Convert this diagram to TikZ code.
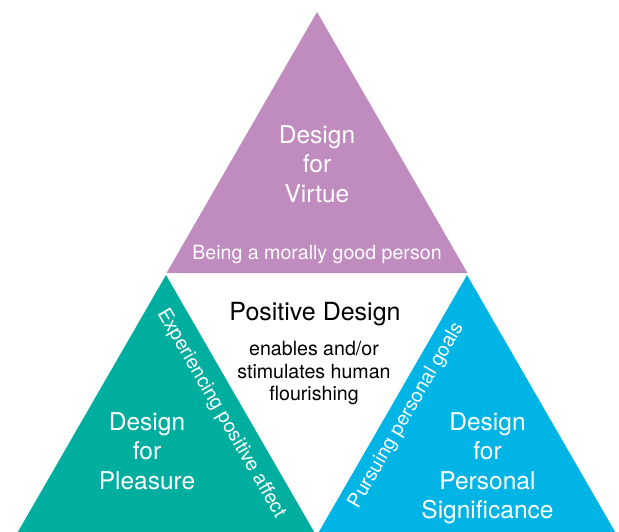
\documentclass[tikz,border=0pt]{standalone}
\usepackage{fontspec}
\setmainfont{TeX Gyre Heros}

\newlength{\du}
\setlength{\du}{1pt}

\definecolor{virtuecolor}{RGB}{192,139,190}
\definecolor{pleasurecolor}{RGB}{0,174,160}
\definecolor{significancecolor}{RGB}{0,181,230}

\tikzset{
  headtext/.style={text=white, align=center, inner sep=0pt, font=\fontsize{24.5}{29.5}\selectfont},
  edgetext/.style={text=white, inner sep=0pt, font=\fontsize{19.6}{22.5}\selectfont},
  centretext/.style={text=black, align=center, inner sep=0pt}
}

\begin{document}
\begin{tikzpicture}
\pgftransformxscale{1.000000}
\pgftransformyscale{-1.000000}
\useasboundingbox (0\du,0\du) rectangle (619\du,532\du);
\clip (0\du,0\du) rectangle (619\du,532\du);
% top triangle
\fill[virtuecolor] (317\du,12\du)--(467.5\du,273\du)--(166.5\du,273\du)--cycle;
% left triangle
\fill[pleasurecolor] (166\du,275\du)--(316.5\du,536\du)--(15.5\du,536\du)--cycle;
% right triangle
\fill[significancecolor] (467\du,275\du)--(617.5\du,536\du)--(316.5\du,536\du)--cycle;
% top labels
\node[headtext] (virtue) at (317\du,164\du){Design\\for\\Virtue};
\node[edgetext, anchor=base] (virtuegoal) at (317\du,259.5\du){Being a morally good person};
% left labels
\node[headtext] (pleasure) at (147\du,451\du){Design\\for\\Pleasure};
\node[edgetext, rotate=-60] (pleasuregoal) at (221\du,413.5\du){Experiencing positive affect};
% right labels
\node[headtext] (significance) at (487.5\du,468\du){Design\\for\\Personal\\Significance};
\node[edgetext, rotate=60] (significancegoal) at (406.5\du,415.5\du){Pursuing personal goals};
% centre
\node[centretext, anchor=base, font=\fontsize{25}{29}\selectfont] (positive) at (315\du,320\du){Positive Design};
\node[centretext, font=\fontsize{19.6}{22.5}\selectfont] (flourish) at (314\du,373\du){enables and/or\\stimulates human\\flourishing};
\end{tikzpicture}
\end{document}
